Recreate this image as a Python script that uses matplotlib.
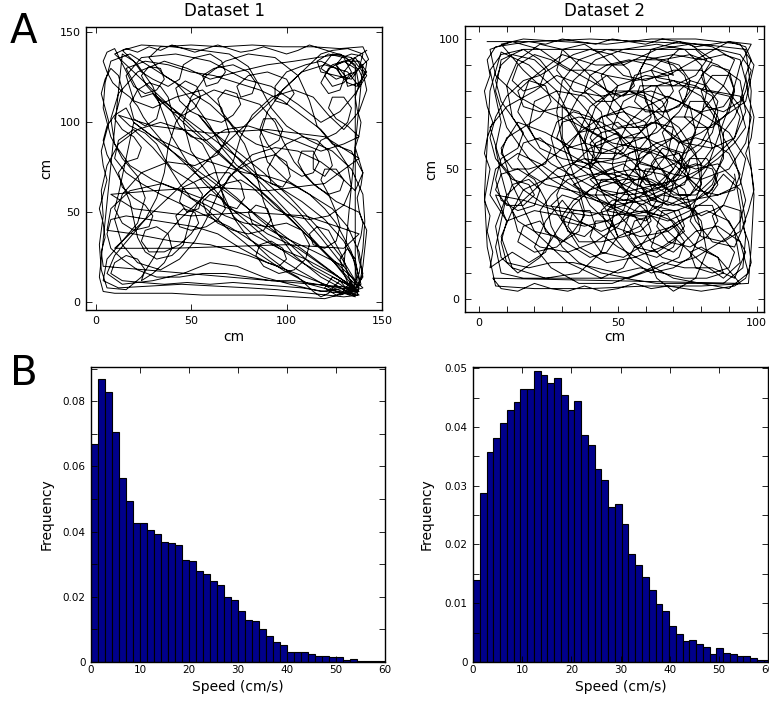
import numpy as np
import matplotlib
matplotlib.use('Agg')
import matplotlib.pyplot as plt
from matplotlib.ticker import MultipleLocator

plt.rcParams['font.family'] = ['DejaVu Sans']

# ---- trajectory waypoints (cm) ----
traj1 = [
    (135, 5), (128, 10), (118, 16), (105, 24), (92, 33), (80, 44), (68, 55), (57, 66), (48, 78), (40, 92),
    (35, 106), (30, 120), (22, 132), (14, 140), (24, 143), (40, 142), (56, 140), (70, 138), (80, 131), (86, 120),
    (92, 108), (100, 98), (112, 90), (124, 84), (134, 74), (140, 60), (141, 45), (140, 30), (138, 16), (134, 7),
    (126, 4), (120, 8), (124, 14), (132, 10), (138, 4), (130, 3), (112, 5), (95, 7), (80, 8), (62, 9),
    (45, 10), (28, 9), (12, 8), (4, 12), (6, 24), (14, 34), (22, 44), (26, 58), (22, 70), (14, 80),
    (8, 92), (4, 108), (5, 122), (8, 134), (18, 138), (30, 130), (42, 122), (52, 110), (60, 98), (66, 86),
    (74, 76), (84, 70), (96, 64), (108, 56), (120, 46), (130, 34), (136, 22), (139, 10), (132, 6), (118, 14),
    (104, 26), (94, 40), (88, 56), (84, 72), (78, 88), (70, 100), (60, 110), (48, 118), (36, 126), (28, 136),
    (34, 142), (50, 143), (66, 142), (82, 143), (98, 142), (114, 142), (128, 141), (140, 142), (143, 135), (136, 128),
    (126, 124), (118, 130), (124, 138), (134, 136), (140, 128), (142, 118), (138, 106), (130, 96), (122, 104), (114, 114),
    (104, 118), (92, 114), (82, 104), (76, 92), (72, 78), (64, 66), (54, 56), (44, 46), (36, 36), (30, 24),
    (24, 14), (16, 7), (6, 8), (3, 18), (2, 32), (4, 48), (3, 62), (6, 76), (12, 88), (22, 96),
    (34, 100), (46, 96), (56, 88), (62, 76), (66, 62), (72, 48), (82, 38), (96, 30), (110, 24), (124, 16),
    (136, 8), (140, 14), (138, 28), (132, 42), (124, 52), (112, 60), (100, 68), (90, 78), (86, 92), (90, 106),
    (98, 118), (108, 128), (120, 132), (132, 128), (138, 120), (136, 132), (128, 138), (116, 136), (104, 134), (90, 132),
    (74, 128), (60, 124), (48, 130), (36, 134), (22, 128), (12, 116), (8, 102), (10, 88), (18, 76), (30, 68),
    (44, 62), (58, 52), (70, 40), (84, 28), (98, 18), (112, 10), (126, 6), (137, 4), (140, 20), (142, 40),
    (138, 50), (126, 56), (114, 66), (104, 78), (98, 90), (94, 100), (86, 110), (74, 114), (62, 118), (50, 112),
    (42, 100), (38, 86), (36, 72), (32, 58), (26, 46), (18, 36), (10, 26), (6, 16), (14, 10), (30, 12),
    (46, 16), (60, 22), (74, 20), (88, 14), (102, 10), (118, 6), (132, 8), (138, 6), (128, 12), (114, 20),
    (100, 34), (86, 46), (74, 58), (60, 70), (50, 84), (46, 100), (50, 114), (58, 126), (68, 134), (80, 138),
    (94, 136), (106, 126), (112, 112), (116, 98), (124, 88), (134, 84), (140, 72), (136, 62), (128, 70), (118, 78),
    (106, 84), (94, 86), (82, 82), (72, 72), (64, 60), (58, 46), (52, 34), (44, 24), (34, 18), (22, 22),
    (14, 32), (10, 46), (14, 60), (24, 72), (38, 78), (52, 76), (64, 82), (70, 94), (66, 108), (56, 118),
    (42, 114), (30, 108), (20, 112), (16, 126), (24, 136), (42, 138), (60, 134), (78, 124), (92, 120), (106, 110),
    (118, 100), (128, 106), (136, 116), (142, 126), (136, 136), (126, 132), (132, 124), (140, 132), (130, 20), (115, 28),
    (95, 38), (75, 50), (55, 58), (35, 66), (18, 62), (8, 52), (6, 40), (20, 38), (40, 34), (60, 32),
    (80, 26), (100, 18), (120, 10), (136, 3), (134, 12), (128, 4), (140, 8),
    (10, 138), (16, 141), (22, 139), (28, 142), (34, 140), (40, 143), (46, 141), (52, 139), (58, 141), (64, 143),
    (70, 141), (76, 139), (82, 140), (88, 142), (94, 140), (100, 138), (106, 140), (112, 143), (118, 141), (124, 139),
    (130, 137), (134, 133), (138, 129), (140, 124), (137, 120), (132, 122), (128, 127), (126, 132), (129, 136), (134, 138),
    (139, 137), (142, 133), (141, 127), (138, 121), (136, 114), (137, 107), (139, 100), (138, 93), (136, 86), (138, 79),
    (140, 72), (139, 65), (137, 58), (138, 51), (140, 44), (139, 37), (137, 30), (138, 23), (140, 16), (138, 10),
    (135, 6), (131, 8), (128, 12), (125, 9), (122, 5), (118, 3), (114, 6), (110, 10), (106, 14), (101, 17),
    (96, 21), (91, 25), (86, 30), (81, 35), (77, 40), (73, 46), (70, 52), (66, 58), (62, 63), (57, 68),
    (52, 72), (47, 77), (42, 82), (37, 87), (33, 92), (29, 97), (25, 103), (22, 109), (18, 114), (13, 118),
    (9, 122), (6, 128), (4, 134), (6, 139), (10, 141),
    (20, 120), (26, 116), (32, 118), (36, 124), (34, 130), (28, 131), (24, 126), (27, 120), (34, 112), (40, 106),
    (46, 104), (52, 108), (55, 114), (53, 120), (47, 123), (42, 119), (44, 112), (50, 106), (58, 102), (66, 100),
    (72, 104), (76, 110), (74, 116), (68, 118), (64, 113), (66, 106), (72, 98), (78, 92), (84, 88), (90, 86),
    (96, 90), (98, 96), (94, 102), (88, 102), (86, 96), (90, 88), (96, 80), (102, 74), (108, 70), (114, 72),
    (117, 78), (114, 84), (108, 84), (106, 78), (110, 70), (116, 64), (122, 60), (128, 62), (130, 68), (126, 74),
    (120, 74), (118, 68), (122, 60), (126, 50), (128, 42), (126, 34), (120, 30), (114, 32), (112, 38), (116, 42),
    (122, 40), (126, 32), (130, 24), (132, 16), (134, 10),
    (130, 5), (120, 6), (108, 8), (96, 9), (84, 10), (72, 11), (60, 10), (48, 11), (36, 10), (24, 11),
    (14, 12), (8, 16), (10, 22), (16, 26), (22, 24), (26, 18), (24, 12), (30, 16), (36, 22), (40, 30),
    (38, 38), (32, 42), (26, 40), (24, 34), (28, 28), (36, 28), (44, 32), (50, 38), (54, 44), (52, 50),
    (46, 52), (42, 48), (44, 42), (50, 40), (58, 42), (64, 46), (68, 52), (66, 58), (60, 60), (56, 56),
    (58, 50), (64, 44), (72, 40), (80, 38), (88, 40), (92, 46), (90, 52), (84, 54), (80, 50), (82, 44),
    (90, 38), (98, 34), (106, 30), (114, 24), (122, 18), (130, 12), (136, 8),
    (4, 20), (3, 28), (5, 36), (4, 44), (2, 52), (4, 60), (6, 68), (4, 76), (3, 84), (5, 92),
    (7, 100), (5, 108), (3, 116), (5, 124), (8, 130), (12, 126), (14, 118), (12, 110), (10, 102), (14, 96),
    (20, 92), (24, 86), (22, 80), (16, 78), (12, 72), (14, 64), (20, 58), (26, 54), (30, 48), (28, 42),
    (20, 40), (14, 44), (10, 52), (12, 60),
    (20, 100), (35, 88), (50, 76), (65, 64), (80, 52), (95, 40), (110, 28), (125, 16), (137, 6), (125, 22),
    (110, 38), (95, 54), (80, 68), (65, 82), (50, 96), (38, 108), (30, 116), (45, 104), (60, 92), (75, 80),
    (90, 66), (105, 52), (118, 36), (130, 20), (138, 8), (132, 14), (120, 28), (106, 44), (92, 60), (78, 76),
    (64, 92), (54, 104), (60, 96), (74, 84), (88, 72), (102, 58), (116, 42), (128, 26), (136, 12),
    (136, 130), (130, 134), (124, 132), (120, 126), (124, 120), (130, 122), (134, 128), (130, 136), (122, 138), (116, 134),
    (118, 128), (126, 126), (134, 124), (138, 130), (140, 138), (132, 141), (124, 140), (118, 138),
    (10, 30), (40, 30), (70, 31), (100, 32), (130, 30), (138, 38), (110, 48), (80, 50), (50, 48), (20, 52),
    (8, 60), (30, 62), (60, 64), (90, 62), (120, 66), (138, 80), (120, 92), (90, 96), (60, 94), (30, 98),
    (12, 104), (18, 98), (26, 94), (32, 88), (36, 80), (40, 74), (46, 70), (52, 66), (56, 60), (54, 52),
    (48, 50), (44, 56), (46, 64), (54, 68), (62, 72), (70, 72), (76, 66), (78, 58), (74, 52), (68, 54),
    (66, 62), (70, 70), (78, 76), (86, 80), (94, 82), (100, 78), (102, 70), (98, 64), (92, 66), (90, 74),
    (94, 82), (100, 88), (108, 92), (116, 90), (122, 84), (124, 76), (120, 70), (114, 74), (114, 82), (118, 90),
    (126, 94), (132, 100), (134, 108), (130, 114), (124, 114), (122, 108), (126, 102), (132, 98), (138, 92),
    (130, 88), (118, 84), (104, 90), (92, 94), (80, 98), (68, 96), (58, 90), (50, 92), (44, 98), (40, 106),
    (38, 114), (34, 120), (28, 122), (22, 118), (18, 110), (20, 102), (26, 98), (32, 102), (34, 110), (30, 116),
    (24, 114),
    (16, 130), (26, 134), (38, 132), (50, 128), (62, 126), (74, 122), (86, 118), (98, 112), (108, 104), (118, 96),
    (126, 86), (132, 76), (134, 64), (130, 54), (122, 48), (112, 46), (102, 48), (94, 52), (88, 58), (82, 64),
    (76, 68), (68, 66), (60, 62), (54, 56), (50, 48), (48, 40), (46, 32), (40, 26), (32, 24), (26, 28),
    (22, 36), (20, 46), (18, 56), (14, 66), (10, 74), (6, 82), (4, 90), (6, 98), (10, 104), (16, 108),
    (20, 100), (30, 92), (42, 86), (54, 80), (66, 76), (78, 72), (90, 70), (102, 66), (112, 60), (120, 52),
    (126, 44), (130, 36), (134, 28), (136, 20), (137, 12), (133, 4), (124, 7), (116, 12), (106, 18), (94, 26),
    (82, 34), (70, 42), (58, 48), (46, 54), (34, 60), (24, 66), (16, 72), (10, 80), (12, 90), (20, 96),
    (30, 86), (38, 76), (44, 66), (50, 58), (58, 54), (68, 48), (78, 44), (90, 42), (100, 44), (108, 40),
    (112, 32), (110, 24), (104, 18), (96, 16), (88, 20), (84, 26), (86, 32), (92, 34), (98, 30), (100, 24),
    (96, 20),
    (90, 22), (76, 30), (64, 38), (52, 42), (40, 44), (28, 46), (16, 48), (8, 46), (6, 38), (8, 30),
    (14, 24), (22, 18), (32, 14), (44, 14), (56, 16), (68, 16), (80, 14), (92, 12), (104, 12), (116, 10),
    (128, 8), (136, 4), (138, 12), (136, 24), (132, 30), (128, 24), (130, 16), (134, 6),
    (120, 2), (104, 3), (88, 4), (72, 4), (56, 4), (40, 5), (24, 5), (10, 5), (4, 6), (2, 14),
    (14, 138), (20, 134), (24, 128), (30, 124), (38, 120), (44, 124), (46, 132), (52, 136), (60, 138), (66, 134),
    (68, 128), (64, 122), (58, 120), (56, 126), (62, 130), (72, 132), (80, 128), (84, 122), (82, 116), (76, 114),
    (74, 120), (80, 126), (90, 128), (100, 124), (104, 116), (100, 110), (94, 112), (94, 120), (100, 128), (110, 132),
    (118, 134), (126, 130), (130, 124), (128, 118), (122, 116), (118, 122), (122, 130), (130, 134), (138, 134), (142, 128),
    (138, 122), (132, 120), (130, 128), (136, 136), (142, 140),
]

traj2 = [
    (3, 99), (20, 99), (40, 100), (60, 99), (80, 98), (96, 96), (98, 80), (97, 60), (99, 40), (98, 20),
    (97, 6), (80, 5), (60, 5), (40, 4), (20, 4), (6, 5), (3, 20), (2, 40), (3, 60), (4, 80),
    (8, 95), (18, 90), (28, 80), (34, 68), (40, 56), (48, 46), (56, 38), (64, 30), (72, 22), (80, 14),
    (88, 8), (94, 14), (92, 26), (86, 36), (78, 44), (70, 52), (62, 60), (54, 70), (46, 80), (38, 88),
    (30, 96), (22, 98), (14, 92), (10, 82), (12, 70), (18, 60), (26, 52), (36, 46), (46, 40), (56, 34),
    (66, 32), (76, 36), (84, 44), (88, 56), (86, 68), (80, 78), (70, 84), (60, 86), (50, 82), (42, 74),
    (38, 62), (40, 50), (46, 38), (54, 28), (60, 18), (64, 8), (70, 3), (78, 8), (82, 18), (80, 30),
    (72, 40), (62, 46), (52, 48), (42, 44), (34, 36), (28, 26), (22, 16), (14, 10), (8, 16), (6, 28),
    (10, 40), (18, 48), (28, 56), (36, 64), (44, 70), (54, 74), (64, 72), (72, 66), (78, 56), (80, 44),
    (76, 32), (68, 26), (58, 24), (48, 28), (40, 36), (34, 48), (30, 60), (28, 72), (30, 84), (36, 92),
    (46, 96), (56, 94), (66, 92), (76, 94), (86, 90), (94, 84), (96, 72), (92, 62), (84, 58), (74, 60),
    (66, 66), (60, 76), (58, 88), (62, 96), (72, 99), (84, 97), (92, 92), (88, 82), (80, 72), (70, 62),
    (58, 54), (48, 52), (38, 54), (28, 50), (20, 42), (12, 34), (8, 24), (12, 12), (24, 8), (36, 10),
    (44, 18), (48, 30), (50, 42), (56, 50), (66, 48), (74, 42), (78, 30), (84, 22), (92, 20), (96, 30),
    (94, 42), (88, 48), (82, 40), (76, 46), (72, 56), (64, 54), (58, 44), (62, 36), (70, 34), (74, 26),
    (66, 20), (56, 16), (46, 14), (36, 20), (30, 30), (28, 40), (32, 50), (40, 58), (50, 62), (60, 62),
    (68, 58), (74, 50), (70, 44), (62, 40), (52, 38), (44, 42), (40, 46), (48, 50), (56, 46), (52, 40),
    (46, 34), (50, 24), (58, 28), (64, 38), (60, 48), (52, 56), (44, 62), (34, 68), (24, 72), (14, 78),
    (6, 86), (4, 96), (12, 99), (22, 96), (30, 90), (40, 84), (50, 78), (62, 80), (72, 76), (82, 70),
    (90, 64), (96, 54), (94, 44), (86, 40), (76, 38), (66, 40), (58, 36), (52, 30), (44, 26), (36, 30),
    (30, 38), (24, 30), (20, 20), (26, 12), (36, 6), (48, 6), (58, 10), (66, 14), (74, 12), (84, 12),
    (92, 8), (96, 18), (90, 30), (82, 34), (72, 30), (64, 24), (56, 20), (52, 12), (44, 8), (32, 14),
    (20, 26), (12, 44), (8, 58), (14, 68), (24, 64), (34, 58), (44, 56), (54, 60), (64, 64), (72, 72),
    (78, 82), (84, 92), (76, 98), (64, 96), (52, 90), (42, 90), (30, 94), (18, 84), (14, 72), (20, 62),
    (32, 56), (42, 50), (52, 44), (60, 40), (68, 36), (76, 40), (82, 50), (86, 62), (90, 74), (94, 90),
    (98, 98), (90, 99), (78, 92), (68, 86), (56, 84), (46, 86), (36, 78), (32, 70), (38, 60), (50, 56),
    (60, 52), (70, 48), (80, 46), (90, 50), (96, 60), (98, 70), (94, 78), (84, 80), (74, 82), (62, 82),
    (52, 76), (48, 66), (54, 58), (62, 56), (68, 46), (66, 36), (60, 30), (50, 34), (42, 38), (36, 42),
    (30, 46), (22, 52), (14, 56), (6, 50), (4, 40), (10, 30), (20, 34), (30, 32), (40, 28), (50, 20),
    (60, 14), (70, 8), (80, 6), (90, 4), (97, 10), (94, 22), (86, 28), (78, 26), (70, 18), (62, 22),
    (56, 32), (48, 36), (40, 40), (34, 44), (42, 48), (52, 52), (62, 44), (72, 38), (80, 32), (88, 36),
    (92, 46), (86, 52), (78, 50), (68, 54), (58, 58), (48, 60), (38, 66), (26, 78), (16, 88), (8, 98),
    (16, 100), (30, 99), (46, 98), (62, 100), (78, 100), (94, 98), (99, 90), (96, 76), (88, 70), (80, 64),
    (72, 60), (64, 68), (56, 66), (50, 70), (44, 78), (38, 82), (28, 86), (20, 80), (10, 74), (4, 66),
    (8, 52), (16, 42), (24, 36), (36, 34), (48, 32), (60, 34), (70, 30), (78, 20), (86, 16), (94, 6),
    (5, 8), (8, 4), (14, 3), (20, 6), (26, 4), (32, 3), (38, 5), (44, 3), (50, 4), (56, 6),
    (62, 4), (68, 5), (74, 4), (80, 3), (86, 4), (92, 5), (96, 8), (98, 14), (97, 22), (95, 28),
    (97, 34), (99, 42), (98, 50), (96, 56), (98, 62), (99, 70), (97, 78), (96, 86), (98, 92), (96, 97),
    (90, 99), (84, 98), (78, 97), (72, 99), (66, 100), (60, 98), (54, 99), (48, 100), (42, 98), (36, 99),
    (30, 100), (24, 98), (18, 99), (12, 98), (6, 97), (3, 92), (4, 86), (2, 80), (3, 74), (5, 68),
    (3, 62), (2, 56), (4, 50), (3, 44), (2, 38), (4, 32), (3, 26), (5, 18), (4, 12),
    (12, 18), (18, 14), (24, 18), (26, 24), (22, 30), (16, 28), (14, 22), (20, 18), (28, 20), (34, 26),
    (38, 32), (36, 38), (30, 40), (26, 36), (30, 30), (38, 28), (46, 30), (52, 34), (54, 40), (50, 46),
    (44, 46), (42, 40), (46, 34), (54, 32), (62, 34), (68, 38), (70, 44), (66, 50), (60, 50), (58, 44),
    (62, 38), (70, 36), (78, 38), (84, 42), (86, 48), (82, 54), (76, 54), (74, 48), (78, 42), (86, 40),
    (92, 42), (94, 48), (90, 56), (84, 60), (78, 62), (72, 60), (70, 54), (74, 50), (80, 52), (84, 58),
    (82, 66), (76, 70), (70, 70), (66, 64), (68, 58), (74, 56), (80, 60), (84, 68), (86, 76), (82, 82),
    (76, 84), (72, 80), (74, 74), (80, 72), (88, 74), (92, 80), (90, 88), (84, 90), (80, 86), (82, 80),
    (90, 78), (94, 70), (92, 62), (86, 56), (80, 50), (72, 46), (64, 44), (56, 42), (48, 40), (40, 40),
    (32, 42), (24, 44), (18, 48), (14, 54), (16, 60), (22, 62), (26, 58), (24, 52), (18, 50), (12, 50),
    (8, 56), (10, 62), (16, 66), (22, 70), (26, 76), (24, 82), (18, 84), (14, 80), (16, 74), (22, 72),
    (30, 74), (36, 72), (40, 66), (38, 60), (32, 58), (28, 62), (30, 68), (36, 70), (44, 68), (50, 64),
    (52, 58), (48, 54), (42, 54), (40, 60), (44, 64), (52, 66), (60, 66), (66, 70), (68, 76), (64, 82),
    (58, 82), (56, 76), (60, 72), (68, 72), (74, 76), (76, 84), (72, 90), (66, 92), (62, 88), (64, 84),
    (70, 82), (78, 86), (82, 92), (78, 96), (72, 96), (68, 92), (70, 86),
    (62, 90), (54, 92), (46, 90), (40, 86), (38, 80), (42, 76), (48, 76), (50, 82), (46, 86), (40, 88),
    (32, 88), (26, 92), (20, 94), (14, 90), (12, 84), (16, 80), (22, 82), (24, 88), (20, 92), (12, 94),
    (8, 90), (6, 84), (8, 76), (12, 70), (16, 64), (14, 58), (8, 54), (6, 46), (8, 38), (14, 34),
    (20, 36), (22, 42), (18, 46), (12, 44), (10, 38), (14, 30), (20, 26), (28, 24), (34, 20), (40, 16),
    (46, 18), (50, 24), (48, 30), (42, 30), (40, 24), (44, 18), (52, 16), (58, 20), (62, 26), (60, 32),
    (54, 32), (52, 26), (56, 20), (64, 18), (70, 22), (74, 28), (72, 34), (66, 34), (64, 28), (68, 22),
    (76, 20), (82, 24), (86, 30), (84, 36), (78, 36), (76, 30), (80, 24), (88, 22), (94, 26), (94, 34),
    (88, 36), (84, 32), (86, 26), (92, 18), (90, 12), (84, 10), (78, 12), (76, 18), (80, 20), (86, 16),
    (88, 10), (82, 8), (74, 8), (66, 10), (58, 12), (50, 10), (42, 12), (34, 14), (26, 14), (18, 12),
    (10, 14), (8, 22), (10, 30),
    (6, 40), (16, 38), (28, 34), (40, 32), (52, 36), (62, 42), (70, 50), (76, 60), (80, 70), (82, 80),
    (80, 90), (74, 96), (64, 98), (52, 96), (42, 92), (34, 84), (30, 74), (30, 62), (34, 52), (42, 46),
    (52, 44), (62, 48), (68, 56), (70, 66), (66, 76), (58, 80), (48, 80), (40, 74), (36, 64), (38, 54),
    (46, 48), (56, 50), (62, 58), (60, 68), (52, 72), (44, 70), (40, 62), (44, 56), (52, 56), (56, 62),
    (50, 68), (44, 66), (36, 76), (28, 84), (22, 92), (16, 96), (8, 92), (6, 80), (10, 66), (18, 54),
    (26, 46), (36, 40), (48, 36), (60, 38), (70, 42), (78, 48), (86, 54), (92, 60), (96, 66), (94, 74),
    (88, 82), (80, 88), (70, 88), (60, 84), (52, 86), (44, 94), (38, 98), (30, 96), (28, 88), (34, 80),
    (44, 78), (54, 80), (62, 76), (64, 66), (58, 58), (50, 54), (40, 52), (30, 54), (22, 58), (18, 66),
    (20, 76), (28, 80), (38, 78), (44, 72), (46, 62), (42, 54), (34, 48), (24, 46), (16, 42), (12, 34),
    (14, 26), (22, 20), (32, 18), (42, 22), (50, 28), (56, 38), (58, 48), (56, 58), (50, 64), (42, 60),
    (40, 50), (44, 42), (54, 40), (64, 42), (72, 48), (74, 58), (70, 66), (62, 68), (56, 62), (58, 52),
    (66, 50), (74, 54), (78, 64), (76, 74), (68, 78),
    (60, 74), (54, 68), (50, 60), (48, 52), (50, 44), (56, 40), (62, 36), (68, 32), (72, 26), (70, 20),
    (64, 16), (58, 18), (54, 24), (56, 30), (62, 32), (68, 30), (76, 34), (82, 38), (86, 44), (84, 50),
    (78, 52), (72, 50), (68, 44), (62, 42), (56, 44), (52, 50), (54, 56), (60, 58), (66, 56), (70, 50),
    (66, 44), (60, 44), (56, 50), (58, 56), (64, 60), (70, 62), (76, 58), (80, 52), (80, 44), (76, 40),
    (70, 40), (64, 46), (62, 52), (66, 58), (72, 56), (76, 50), (74, 44), (68, 42),
    (60, 46), (52, 46), (46, 44), (40, 42), (34, 38), (30, 32), (32, 26), (38, 24), (42, 28), (40, 34),
    (34, 34), (32, 28), (36, 22), (44, 22), (52, 24), (58, 26), (62, 30), (60, 36), (54, 38), (48, 38),
    (44, 34), (46, 28),
    (50, 22), (56, 14), (62, 10), (70, 12), (76, 16), (80, 26), (78, 34), (72, 36), (66, 38), (60, 42),
    (54, 46), (48, 48), (40, 48), (32, 46), (26, 40), (22, 34), (24, 26), (30, 22), (36, 26), (38, 34),
    (36, 42), (32, 48), (28, 54), (26, 62), (28, 68), (34, 72), (40, 70), (44, 64), (44, 56), (40, 50),
    (34, 52), (32, 58), (36, 64), (44, 66), (52, 62), (58, 64), (62, 70), (60, 78), (54, 80), (48, 76),
    (46, 70), (50, 66), (58, 68), (66, 74), (70, 80), (68, 86), (62, 88), (56, 86), (54, 80),
    (60, 92), (70, 94), (80, 92), (88, 94), (94, 92), (96, 84), (94, 76), (88, 72), (82, 74), (80, 80),
    (84, 86), (90, 86), (92, 80), (90, 72), (84, 66), (78, 66), (74, 70), (76, 76), (82, 76), (86, 70),
    (88, 62), (92, 54), (94, 46), (96, 38), (94, 30), (90, 24), (84, 20), (78, 16), (72, 14), (66, 16),
    (62, 20), (64, 26), (70, 28), (74, 22), (72, 16),
    (64, 12), (54, 8), (44, 10), (36, 14), (30, 20), (26, 28), (24, 38), (20, 46), (14, 50), (8, 48),
    (6, 42), (10, 36), (16, 36), (20, 40), (18, 44),
    (12, 46), (6, 54), (4, 62), (6, 70), (10, 78), (16, 84), (22, 86), (28, 90), (34, 94), (40, 96),
    (48, 94), (54, 88), (56, 82), (52, 78), (46, 80), (44, 86), (48, 90), (56, 92), (64, 92), (70, 90),
    (74, 86), (76, 80), (72, 74), (66, 72), (62, 76), (64, 82), (70, 84), (78, 82), (84, 78), (86, 72),
    (84, 64), (80, 58), (74, 52), (70, 46), (72, 40), (78, 40), (84, 46), (88, 54), (88, 64),
    (92, 70), (96, 80), (98, 88), (94, 94), (86, 96), (76, 96), (66, 96), (56, 96), (46, 96), (36, 96),
    (26, 96), (16, 96), (8, 94), (4, 88), (6, 78), (8, 68), (6, 58), (8, 48), (10, 40), (8, 30),
    (6, 20), (8, 10), (16, 8), (28, 8), (40, 8), (52, 8), (64, 6), (76, 6), (88, 6), (95, 12),
    (96, 24), (94, 36), (92, 48),
]

# ---- speed histograms, panel B (normalised frequency per bin) ----
freq1 = [0.0669, 0.0867, 0.0829, 0.0706, 0.0563, 0.0493, 0.0427, 0.0427, 0.0405, 0.0393,
         0.0367, 0.0365, 0.0358, 0.0313, 0.0309, 0.0280, 0.0269, 0.0250, 0.0236, 0.0198,
         0.0189, 0.0157, 0.0130, 0.0125, 0.0100, 0.0079, 0.0061, 0.0052, 0.0032, 0.0032,
         0.0030, 0.0024, 0.0018, 0.0018, 0.0015, 0.0015, 0.0007, 0.0010, 0.0003, 0.0003,
         0.0002, 0.0002]
binw1 = 60.0 / 42

freq2 = [0.0139, 0.0287, 0.0357, 0.0382, 0.0407, 0.0429, 0.0442, 0.0464, 0.0464, 0.0495,
         0.0489, 0.0474, 0.0484, 0.0455, 0.0429, 0.0444, 0.0386, 0.0370, 0.0329, 0.0310,
         0.0263, 0.0269, 0.0235, 0.0184, 0.0165, 0.0144, 0.0123, 0.0098, 0.0087, 0.0061,
         0.0047, 0.0036, 0.0037, 0.0030, 0.0026, 0.0014, 0.0023, 0.0015, 0.0013, 0.0011,
         0.0010, 0.0007, 0.0004, 0.0004]
binw2 = 1.375

W, H = 769, 702
fig = plt.figure(figsize=(W / 100, H / 100), dpi=100)


def px_axes(l, t, r, b):
    return fig.add_axes([l / W, 1 - b / H, (r - l) / W, (b - t) / H])


def style(ax, size):
    ax.tick_params(which='both', direction='in', top=True, right=True,
                   labelsize=size, length=4, width=0.6, pad=4)
    for s in ax.spines.values():
        s.set_linewidth(1.0)


ax1 = px_axes(86, 27, 382, 310)
ax2 = px_axes(465, 26, 764, 312)
ax3 = px_axes(91, 367, 385, 662)
ax4 = px_axes(473, 367, 768, 662)

t1 = np.array(traj1)
ax1.plot(t1[:, 0], t1[:, 1], color='black', lw=0.7)
ax1.set_xlim(-5, 150)
ax1.set_ylim(-4.3, 153)
ax1.xaxis.set_major_locator(MultipleLocator(50))
ax1.yaxis.set_major_locator(MultipleLocator(50))
style(ax1, 8)
ax1.set_xlabel('cm', fontsize=10)
ax1.set_ylabel('cm', fontsize=10)
ax1.xaxis.set_label_coords(0.5, -0.07)
ax1.yaxis.set_label_coords(-0.112, 0.5)

t2 = np.array(traj2)
ax2.plot(t2[:, 0], t2[:, 1], color='black', lw=0.7)
ax2.set_xlim(-5, 102.6)
ax2.set_ylim(-5, 105)
ax2.xaxis.set_major_locator(MultipleLocator(50))
ax2.yaxis.set_major_locator(MultipleLocator(50))
ax2.xaxis.set_minor_locator(MultipleLocator(10))
ax2.yaxis.set_minor_locator(MultipleLocator(10))
style(ax2, 8)
ax2.set_xlabel('cm', fontsize=10)
ax2.set_ylabel('cm', fontsize=10)
ax2.xaxis.set_label_coords(0.5, -0.062)
ax2.yaxis.set_label_coords(-0.09, 0.5)


def short_fmt(v, pos):
    return '0' if v == 0 else f'{v:.2f}'


edges1 = np.arange(len(freq1)) * binw1
ax3.bar(edges1, freq1, width=binw1, align='edge', color='#00008B',
        edgecolor='black', linewidth=0.8)
ax3.set_xlim(0, 60)
ax3.set_ylim(0, 0.0905)
ax3.xaxis.set_major_locator(MultipleLocator(10))
ax3.yaxis.set_major_locator(MultipleLocator(0.02))
ax3.yaxis.set_minor_locator(MultipleLocator(0.01))
style(ax3, 7.5)
ax3.yaxis.set_major_formatter(plt.FuncFormatter(short_fmt))
ax3.set_xlabel('Speed (cm/s)', fontsize=10)
ax3.set_ylabel('Frequency', fontsize=10)
ax3.xaxis.set_label_coords(0.5, -0.062)
ax3.yaxis.set_label_coords(-0.128, 0.5)
ax3.tick_params(axis='x', pad=2)

edges2 = np.arange(len(freq2)) * binw2
ax4.bar(edges2, freq2, width=binw2, align='edge', color='#00008B',
        edgecolor='black', linewidth=0.8)
ax4.set_xlim(0, 60)
ax4.set_ylim(0, 0.0502)
ax4.xaxis.set_major_locator(MultipleLocator(10))
ax4.yaxis.set_major_locator(MultipleLocator(0.01))
ax4.yaxis.set_minor_locator(MultipleLocator(0.005))
style(ax4, 7.5)
ax4.yaxis.set_major_formatter(plt.FuncFormatter(short_fmt))
ax4.set_xlabel('Speed (cm/s)', fontsize=10)
ax4.set_ylabel('Frequency', fontsize=10)
ax4.xaxis.set_label_coords(0.5, -0.062)
ax4.yaxis.set_label_coords(-0.133, 0.5)
ax4.tick_params(axis='x', pad=2)

fig.text(224.5 / W, 1 - 11 / H, 'Dataset 1', ha='center', va='center', fontsize=12)
fig.text(604 / W, 1 - 11 / H, 'Dataset 2', ha='center', va='center', fontsize=12)
fig.text(10 / W, 1 - 43 / H, 'A', ha='left', va='baseline', fontsize=29)
fig.text(10 / W, 1 - 385 / H, 'B', ha='left', va='baseline', fontsize=29)

fig.savefig('out.png', dpi=100)
